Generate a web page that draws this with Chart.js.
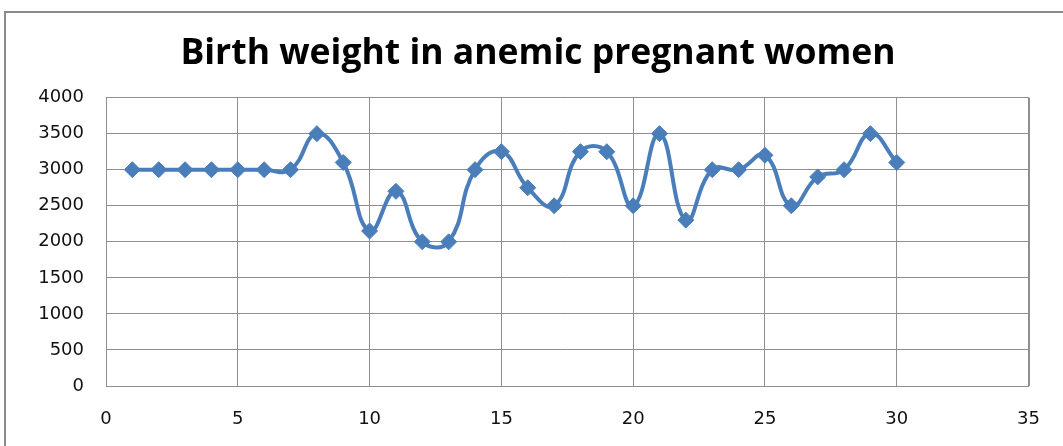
<!DOCTYPE html>
<html>
<head>
<meta charset="utf-8">
<script src="https://cdn.jsdelivr.net/npm/chart.js@4/dist/chart.umd.min.js"></script>
<style>
  html, body { margin: 0; padding: 0; background: #fff; }
  #wrap { width: 1063px; height: 446px; }
</style>
</head>
<body>
<div id="wrap"><canvas id="c" width="1063" height="446"></canvas></div>
<script>
// Case number (1..30) and birth weight in grams
const caseNumbers = [1,2,3,4,5,6,7,8,9,10,11,12,13,14,15,16,17,18,19,20,21,22,23,24,25,26,27,28,29,30];
const birthWeights = [3000,3000,3000,3000,3000,3000,3000,3500,3100,2150,2700,2000,2000,3000,3250,2750,2500,3250,3250,2500,3500,2300,3000,3000,3200,2500,2900,3000,3500,3100];
const xTicks = [0,5,10,15,20,25,30,35];
const yTicks = [0,500,1000,1500,2000,2500,3000,3500,4000];
const chartTitle = 'Birth weight in anemic pregnant women';

const points = caseNumbers.map((x, i) => ({ x: x, y: birthWeights[i] }));

// Grey frame around the chart (top and left edges visible)
const framePlugin = {
  id: 'frame',
  beforeDraw(chart) {
    const ctx = chart.ctx;
    ctx.save();
    ctx.strokeStyle = '#8a8a8a';
    ctx.lineWidth = 2;
    ctx.beginPath();
    ctx.moveTo(5, 446);
    ctx.lineTo(5, 12);
    ctx.lineTo(1063, 12);
    ctx.stroke();
    ctx.restore();
  }
};

// right edge of the plot area
const plotBorderPlugin = {
  id: 'plotBorder',
  beforeDatasetsDraw(chart) {
    const a = chart.chartArea, ctx = chart.ctx;
    ctx.save();
    ctx.strokeStyle = '#8f8f8f';
    ctx.lineWidth = 1;
    ctx.beginPath();
    ctx.moveTo(Math.round(a.right) + 0.5, a.top);
    ctx.lineTo(Math.round(a.right) + 0.5, a.bottom);
    ctx.stroke();
    ctx.restore();
  }
};

// the title sits centred on the framed chart box, a little right of the canvas centre
const titleShiftPlugin = {
  id: 'titleShift',
  afterLayout(chart) {
    const t = chart.titleBlock;
    if (t) { t.left += 7; t.right += 7; }
  }
};

const lineColor = '#4a7ebb';
const gridColor = '#8f8f8f';
const tickFont = { family: 'DejaVu Sans', size: 18 };

new Chart(document.getElementById('c'), {
  type: 'scatter',
  data: {
    datasets: [{
      data: points,
      showLine: true,
      borderColor: lineColor,
      backgroundColor: lineColor,
      borderWidth: 4,
      tension: 0.45,
      pointStyle: 'rectRot',
      pointRadius: 8,
      pointHoverRadius: 8,
      pointBorderWidth: 1,
      pointBorderColor: lineColor,
      pointBackgroundColor: lineColor
    }]
  },
  options: {
    responsive: false,
    animation: false,
    layout: { padding: { left: 24, right: 25, top: 0, bottom: 0 } },
    plugins: {
      legend: { display: false },
      tooltip: { enabled: false },
      title: {
        display: true,
        text: chartTitle,
        color: '#000',
        font: { family: 'Open Sans', size: 35.5, weight: 'bold' },
        padding: { top: 33, bottom: 22 }
      }
    },
    scales: {
      x: {
        type: 'linear',
        min: 0,
        max: 35,
        afterBuildTicks(scale) { scale.ticks = xTicks.map(v => ({ value: v })); },
        afterFit(scale) { scale.height = 60; },
        grid: { color: gridColor, lineWidth: 1, drawTicks: false },
        border: { display: true, color: gridColor, width: 1 },
        ticks: { color: '#111', font: tickFont, padding: 23, maxRotation: 0, callback: v => String(v) }
      },
      y: {
        type: 'linear',
        min: 0,
        max: 4000,
        afterBuildTicks(scale) { scale.ticks = yTicks.map(v => ({ value: v })); },
        afterFit(scale) { scale.width = 82; },
        grid: { color: gridColor, lineWidth: 1, drawTicks: false },
        border: { display: true, color: gridColor, width: 1 },
        ticks: { color: '#111', font: tickFont, padding: 22, callback: v => String(v) }
      }
    }
  },
  plugins: [framePlugin, plotBorderPlugin, titleShiftPlugin]
});
</script>
</body>
</html>
